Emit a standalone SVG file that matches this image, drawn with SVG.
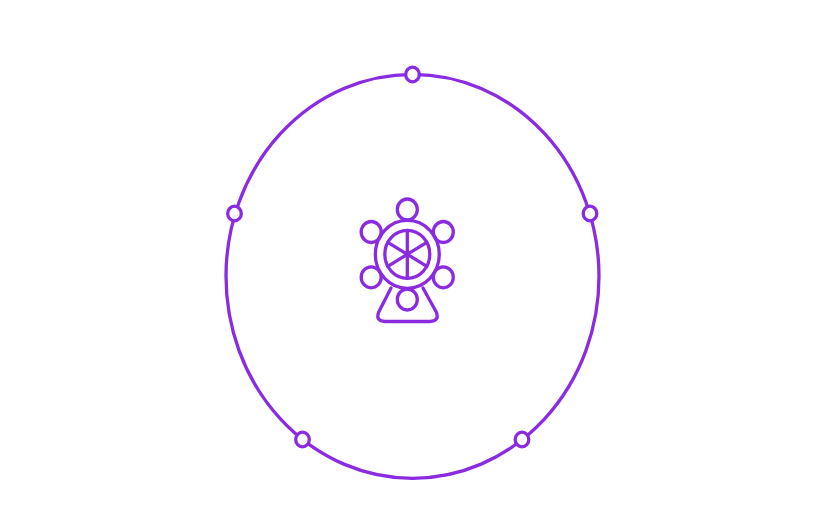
<svg xmlns="http://www.w3.org/2000/svg" width="833" height="505" viewBox="0 0 833 505">
<style>
.s{fill:none;stroke:#8a2be2;stroke-width:3.3;stroke-linecap:round;stroke-linejoin:round}
.n{fill:#fff;stroke:#8a2be2;stroke-width:3.300}
</style>
<rect width="833" height="505" fill="#fff"/>
<g id="connectors">
<ellipse class="s" cx="412.500" cy="276.300" rx="186.500" ry="202"/>
</g>
<g id="node-top"><ellipse class="n" cx="412.500" cy="74.500" rx="6.800" ry="7.300"/></g>
<g id="node-left"><ellipse class="n" cx="234.500" cy="213.500" rx="6.800" ry="7.300"/></g>
<g id="node-right"><ellipse class="n" cx="590" cy="213.500" rx="6.800" ry="7.300"/></g>
<g id="node-bottom-left"><ellipse class="n" cx="302.500" cy="439.500" rx="6.800" ry="7.300"/></g>
<g id="node-bottom-right"><ellipse class="n" cx="522" cy="439.500" rx="6.800" ry="7.300"/></g>
<g id="center-icon">
<path class="s" d="M391 288L378.500 312.500Q375.500 321 385 321.500H430Q439.500 321 436.500 312.500L423 288"/>
<ellipse class="s" cx="407.300" cy="254.300" rx="32" ry="34"/>
<ellipse class="s" cx="407.300" cy="254.300" rx="22.500" ry="24"/>
<path class="s" d="M407.300 230.500V278M387.800 242.300L426.800 266.300M387.800 266.300L426.800 242.300"/>
<ellipse class="s" cx="407.300" cy="209.500" rx="10" ry="10.500"/>
<ellipse class="s" cx="371.200" cy="232" rx="10" ry="10.500"/>
<ellipse class="s" cx="443.300" cy="232" rx="10" ry="10.500"/>
<ellipse class="s" cx="371.200" cy="277.300" rx="10" ry="10.500"/>
<ellipse class="s" cx="443.300" cy="277.300" rx="10" ry="10.500"/>
<ellipse class="s" cx="407.300" cy="299.500" rx="10" ry="10.500"/>
</g>
</svg>
